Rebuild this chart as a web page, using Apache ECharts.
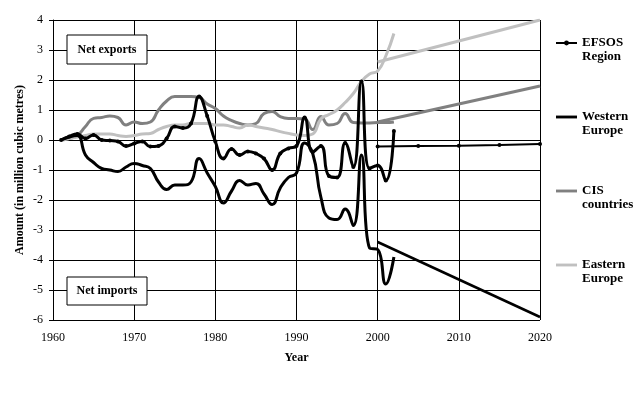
<!DOCTYPE html>
<html><head><meta charset="utf-8">
<script src="https://cdn.jsdelivr.net/npm/echarts@6/dist/echarts.min.js"></script>
<style>html,body{margin:0;padding:0;background:#fff}#c{width:642px;height:394px}</style>
</head><body><div id="c"></div>
<script>
const histYears = [1961,1962,1963,1964,1965,1966,1967,1968,1969,1970,
  1971,1972,1973,1974,1975,1976,1977,1978,1979,1980,
  1981,1982,1983,1984,1985,1986,1987,1988,1989,1990,
  1991,1992,1993,1994,1995,1996,1997,1998,1999,2000,2001,2002];
const efsosHist = [0.0,0.12,0.2,0.05,0.17,0.0,-0.02,-0.05,-0.2,-0.12,
  -0.05,-0.22,-0.2,0.05,0.45,0.4,0.55,1.45,0.8,-0.05,
  -0.62,-0.3,-0.5,-0.38,-0.45,-0.62,-1.0,-0.45,-0.28,-0.2,
  0.75,-0.4,-0.2,-1.2,-1.25,-0.1,-0.9,1.95,-0.95,-0.85,-1.35,0.3];
const westHist = [0.0,0.1,0.15,-0.5,-0.75,-0.95,-1.0,-1.05,-0.9,-0.78,
  -0.85,-0.95,-1.4,-1.65,-1.5,-1.5,-1.4,-0.62,-1.1,-1.55,
  -2.1,-1.7,-1.35,-1.5,-1.45,-1.8,-2.15,-1.6,-1.25,-1.1,
  -0.1,-0.45,-1.9,-2.6,-2.65,-2.3,-2.85,-0.5,-3.6,-3.65,-4.8,-3.9];
const cisHist = [0.0,0.05,0.15,0.45,0.72,0.75,0.8,0.75,0.5,0.6,
  0.55,0.6,1.0,1.3,1.45,1.45,1.45,1.42,1.2,1.05,
  0.8,0.65,0.55,0.5,0.55,0.88,0.95,0.78,0.72,0.72,
  0.7,0.35,0.78,0.5,0.55,0.88,0.58,0.57,0.57,0.58,0.58,0.6];
const eastHist = [0.0,0.05,0.1,0.15,0.2,0.2,0.2,0.15,0.12,0.15,
  0.2,0.22,0.35,0.45,0.5,0.5,0.55,0.55,0.55,0.5,
  0.5,0.45,0.4,0.5,0.45,0.4,0.35,0.28,0.22,0.17,
  0.15,0.2,0.7,0.85,1.0,1.25,1.55,1.95,2.2,2.3,2.8,3.55];

const efsosProjYears = [2000,2005,2010,2015,2020];
const efsosProj = [-0.22,-0.2,-0.19,-0.17,-0.13];
const projYears = [2000,2020];
const westProj = [-3.4,-5.9];
const cisProj = [0.6,1.8];
const eastProj = [2.6,4.0];

const names = ['EFSOS\nRegion','Western\nEurope','CIS\ncountries','Eastern\nEurope'];
const xTicks = {min:1960,max:2020,interval:10};
const yTicks = {min:-6,max:4,interval:1};

const pair = (xs, vs) => xs.map((x,i)=>[x, vs[i]]);
const FONT = 'Liberation Serif';
const LINE_ICON = 'path://M0,0H22V3H0Z';

const chart = echarts.init(document.getElementById('c'), null, {renderer:'canvas'});
function lineSeries(name, data, color, width, opts) {
  return Object.assign({
    type:'line', name, data, smooth:true, showSymbol:false, symbol:'none',
    lineStyle:{color, width}, itemStyle:{color}, z:3, animation:false
  }, opts||{});
}
chart.setOption({
  animation:false,
  backgroundColor:'#fff',
  grid:{left:53, right:102, top:20, bottom:74},
  xAxis:{type:'value', min:xTicks.min, max:xTicks.max, interval:xTicks.interval,
    name:'Year', nameLocation:'middle', nameGap:32,
    nameTextStyle:{fontFamily:FONT, fontWeight:'bold', fontSize:12, color:'#000'},
    axisLine:{lineStyle:{color:'#000', width:1}},
    axisTick:{show:true, length:4, lineStyle:{color:'#000'}},
    axisLabel:{fontFamily:FONT, fontSize:12, color:'#000', margin:12, formatter: v => String(v)},
    splitLine:{show:true, lineStyle:{color:'#000', width:1}}},
  yAxis:{type:'value', min:yTicks.min, max:yTicks.max, interval:yTicks.interval,
    name:'Amount (in million cubic metres)', nameLocation:'middle', nameGap:27, nameRotate:90,
    nameMoveOverlap:false,
    nameTextStyle:{fontFamily:FONT, fontWeight:'bold', fontSize:12, color:'#000'},
    axisLine:{show:true, lineStyle:{color:'#000', width:1}},
    axisTick:{show:true, length:4, lineStyle:{color:'#000'}},
    axisLabel:{fontFamily:FONT, fontSize:12, color:'#000', margin:10},
    splitLine:{show:true, lineStyle:{color:'#000', width:1}}},
  legend:{
    data:[names[0], {name:names[1], icon:LINE_ICON}, {name:names[2], icon:LINE_ICON}, {name:names[3], icon:LINE_ICON}],
    orient:'vertical', left:555, top:22, padding:0, itemWidth:21, itemHeight:6, itemGap:32,
    selectedMode:false, formatter: n => '\n' + n,
    textStyle:{fontFamily:FONT, fontWeight:'bold', fontSize:13, lineHeight:14, color:'#000'}},
  series:[
    lineSeries(names[0], pair(histYears, efsosHist), '#000', 3,
      {showSymbol:true, symbol:'circle', symbolSize:4, z:5}),
    lineSeries(names[1], pair(histYears, westHist), '#000', 3, {z:4}),
    lineSeries(names[2], pair(histYears, cisHist), '#808080', 3),
    lineSeries(names[3], pair(histYears, eastHist), '#c0c0c0', 3),
    lineSeries(names[0], pair(efsosProjYears, efsosProj), '#000', 2,
      {smooth:false, showSymbol:true, symbol:'circle', symbolSize:4, z:5}),
    lineSeries(names[1], pair(projYears, westProj), '#000', 2.5, {smooth:false, z:4}),
    lineSeries(names[2], pair(projYears, cisProj), '#808080', 3, {smooth:false}),
    lineSeries(names[3], pair(projYears, eastProj), '#c0c0c0', 3, {smooth:false})
  ],
  graphic:[
    {type:'rect', z:100, shape:{x:67,y:35,width:80,height:29}, style:{fill:'#fff', stroke:'#000', lineWidth:1}},
    {type:'text', z:101, x:107, y:50, style:{text:'Net exports', font:'bold 12px "Liberation Serif"', fill:'#000', align:'center', verticalAlign:'middle'}},
    {type:'rect', z:100, shape:{x:67,y:277,width:80,height:28}, style:{fill:'#fff', stroke:'#000', lineWidth:1}},
    {type:'text', z:101, x:107, y:291, style:{text:'Net imports', font:'bold 12px "Liberation Serif"', fill:'#000', align:'center', verticalAlign:'middle'}}
  ]
});
</script></body></html>
